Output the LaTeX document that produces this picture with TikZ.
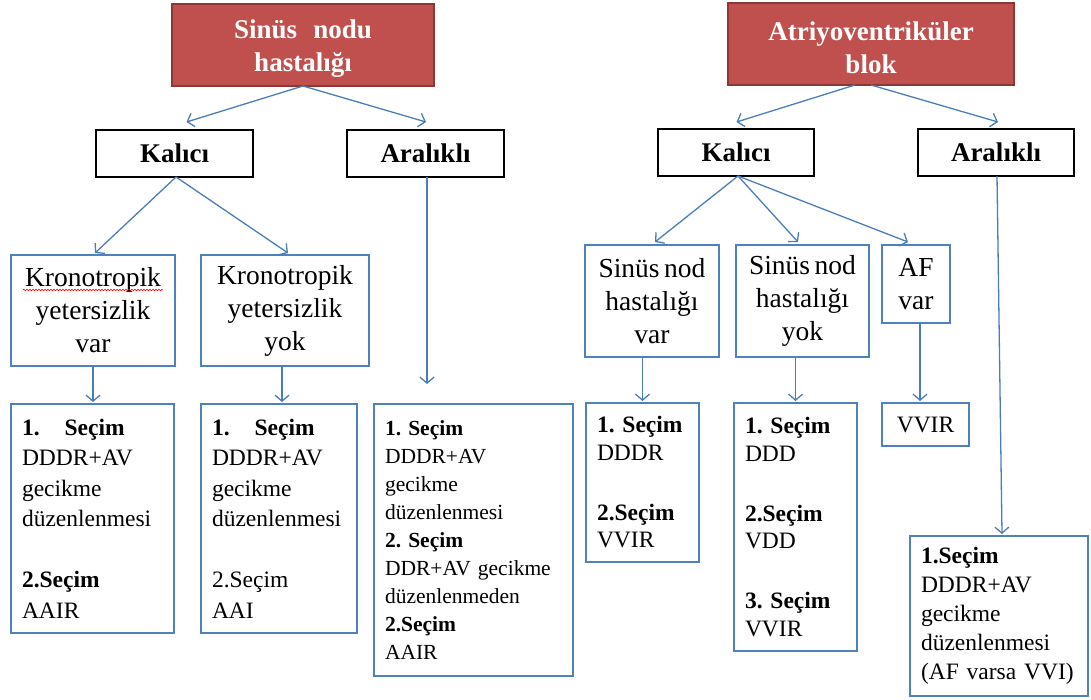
\documentclass[tikz,border=0pt]{standalone}
\usepackage{fontspec}
\setmainfont{Liberation Serif}
\usetikzlibrary{arrows.meta,decorations.pathmorphing}
\definecolor{hdrfill}{HTML}{C0504D}
\definecolor{hdrline}{HTML}{8C3836}
\definecolor{bluebox}{HTML}{4F81BD}
\definecolor{conncol}{HTML}{4A7EBB}
\frenchspacing
\begin{document}
\begin{tikzpicture}[x=1pt,y=-1pt,
  hdr/.style={draw=hdrline, line width=2pt, fill=hdrfill,
    anchor=north west, inner sep=0pt, outer sep=0pt},
  hdrtext/.style={text=white, font=\fontsize{27}{33}\selectfont\bfseries,
    align=center, inner sep=0pt},
  catbox/.style={draw=black, line width=2.5pt,
    font=\fontsize{27}{33}\selectfont\bfseries, align=center,
    anchor=north west, inner sep=0pt, outer sep=0pt},
  condbox/.style={draw=bluebox, line width=2.5pt,
    font=\fontsize{27.5}{33}\selectfont, align=center,
    anchor=north west, inner sep=0pt, outer sep=0pt},
  choicebox/.style={draw=bluebox, line width=2.5pt, align=left,
    anchor=north west, inner ysep=0pt, inner xsep=11pt, outer sep=0pt},
  conn/.style={draw=conncol, line width=1.3pt, -{Straight Barb[length=6pt,width=14pt]}}
]
\useasboundingbox (0,0) rectangle (1091,699);

% headers
\node[hdr, minimum width=262pt, minimum height=82pt] (h1) at (172,4) {};
\node[hdrtext] (h1t) at ([yshift=-4pt]h1.center) {Sinüs\hspace{0.6em}nodu\\hastalığı};
\node[hdr, minimum width=286pt, minimum height=82pt] (h2) at (728,3) {};
\node[hdrtext] (h2t) at ([yshift=-4pt]h2.center) {Atriyoventriküler\\blok};

% categories
\node[catbox, minimum width=157pt, minimum height=47pt] (k1) at (96,130) {Kalıcı};
\node[catbox, minimum width=157pt, minimum height=47pt] (a1) at (347,130) {Aralıklı};
\node[catbox, minimum width=156pt, minimum height=47pt] (k2) at (658,129) {Kalıcı};
\node[catbox, minimum width=156pt, minimum height=47pt] (a2) at (918,129) {Aralıklı};

% conditions
\node[condbox, minimum width=164pt, minimum height=111pt] (kv) at (11,255)
  {Kronotropik\\yetersizlik\\var};
\node[condbox, minimum width=168pt, minimum height=111pt] (ky) at (201,255)
  {Kronotropik\\yetersizlik\\yok};
\node[condbox, minimum width=134pt, minimum height=112pt] (sv) at (585,245)
  {Sinüs\,nod\\hastalığı\\var};
\node[condbox, minimum width=133pt, minimum height=112pt] (sy) at (736,245)
  {Sinüs\,nod\\hastalığı\\yok};
\node[condbox, minimum width=68pt, minimum height=78pt] (af) at (882,245)
  {AF\\var};

% choices
\node[choicebox, text width=141pt, minimum height=229pt,
  font=\fontsize{23.5}{30.5}\selectfont] (c1) at (11,404)
  {\textbf{1.}\hspace{25pt}\textbf{Seçim}\\DDDR+AV\\gecikme\\düzenlenmesi\\[30.5pt]\textbf{2.Seçim}\\AAIR};
\node[choicebox, text width=134pt, minimum height=229pt,
  font=\fontsize{23.5}{30.5}\selectfont] (c2) at (201,404)
  {\textbf{1.}\hspace{25pt}\textbf{Seçim}\\DDDR+AV\\gecikme\\düzenlenmesi\\[30.5pt]2.Seçim\\AAI};
\node[choicebox, text width=177pt, minimum height=272pt,
  font=\fontsize{21.5}{28}\selectfont] (c3) at (374,404)
  {\textbf{1. Seçim}\\DDDR+AV\\gecikme\\düzenlenmesi\\\textbf{2. Seçim}\\DDR+AV gecikme\\düzenlenmeden\\\textbf{2.Seçim}\\AAIR};
\node[choicebox, text width=91pt, minimum height=159pt,
  font=\fontsize{23.5}{27.5}\selectfont] (c4) at (586,403)
  {\textbf{1. Seçim}\\DDDR\\[32.5pt]\textbf{2.Seçim}\\VVIR};
\node[choicebox, text width=101pt, minimum height=248pt,
  font=\fontsize{23.5}{27.5}\selectfont] (c5) at (734,403)
  {\textbf{1. Seçim}\\DDD\\[32.5pt]\textbf{2.Seçim}\\VDD\\[32.5pt]\textbf{3. Seçim}\\VVIR};
\node[draw=bluebox, line width=2.5pt, anchor=north west, inner sep=0pt, outer sep=0pt,
  minimum width=87pt, minimum height=43pt,
  font=\fontsize{23.5}{27.5}\selectfont] (c6) at (882,403) {VVIR};
\node[choicebox, text width=156pt, minimum height=160pt, inner xsep=11pt,
  font=\fontsize{23.5}{29}\selectfont] (c7) at (910,536)
  {\textbf{1.Seçim}\\DDDR+AV\\gecikme\\düzenlenmesi\\(AF varsa VVI)};

% spell-check squiggle
\draw[red, line width=0.6pt, decorate,
  decoration={snake, amplitude=0.8pt, segment length=3pt}] (23,290) -- (163,290);

% connectors
\draw[conn] (h1.south) -- ([xshift=12pt,yshift=8pt]k1.north);
\draw[conn] (h1.south) -- ([xshift=0.5pt,yshift=8pt]a1.north);
\draw[conn] ([xshift=-16pt]h2.south) -- ([xshift=0.5pt,yshift=7pt]k2.north);
\draw[conn] (h2.south) -- ([xshift=2pt,yshift=7pt]a2.north);

\draw[conn] ([xshift=1.5pt]k1.south) -- ([xshift=2pt,yshift=2pt]kv.north);
\draw[conn] ([xshift=1.5pt]k1.south) -- ([xshift=3pt,yshift=2pt]ky.north);
\coordinate (a1tip) at (427,384);
\draw[conn] ([xshift=1.5pt]a1.south) -- (a1tip);

\draw[conn] ([xshift=2pt]k2.south) -- ([xshift=3pt,yshift=3pt]sv.north);
\draw[conn] ([xshift=2pt]k2.south) -- ([xshift=-4.5pt,yshift=3pt]sy.north);
\draw[conn] ([xshift=2pt]k2.south) -- ([xshift=-8pt,yshift=3pt]af.north);
\draw[conn] ([xshift=1pt]a2.south) -- ([xshift=3pt,yshift=2pt]c7.north);

\draw[conn] (kv.south) -- ([yshift=2pt]kv.south |- c1.north);
\draw[conn] ([xshift=-3pt]ky.south) -- ([xshift=-3pt,yshift=2pt]ky.south |- c2.north);
\draw[conn] (c4.north |- sv.south) -- ([yshift=2pt]c4.north);
\draw[conn] (c5.north |- sy.south) -- ([yshift=2pt]c5.north);
\draw[conn] ([xshift=4pt]af.south) -- ([xshift=4pt,yshift=2pt]af.south |- c6.north);
\end{tikzpicture}
\end{document}
